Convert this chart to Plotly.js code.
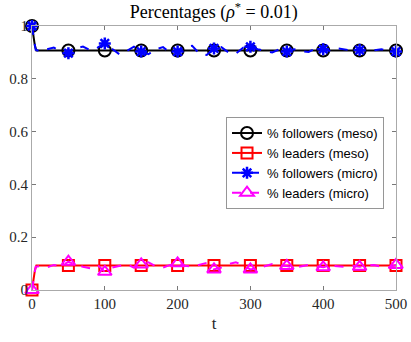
<!DOCTYPE html>
<html>
<head>
<meta charset="utf-8">
<script src="https://cdn.plot.ly/plotly-3.0.1.min.js"></script>
<style>
  html, body { margin: 0; padding: 0; background: #fff; }
  #myDiv { width: 411px; height: 342px; }
</style>
</head>
<body>
<div id="myDiv"></div>
<script>
// meso model (smooth)
var tMeso = [0, 2, 4, 6, 50, 100, 150, 200, 250, 300, 350, 400, 450, 500];
var followersMeso = [1, 0.96, 0.925, 0.907, 0.907, 0.907, 0.907, 0.907, 0.907, 0.907, 0.907, 0.907, 0.907, 0.907];
var leadersMeso = [0, 0.04, 0.075, 0.093, 0.093, 0.093, 0.093, 0.093, 0.093, 0.093, 0.093, 0.093, 0.093, 0.093];

// micro model (noisy)
var tMicro = [0, 5, 10, 20, 30, 40, 50, 60, 70, 80, 90, 100, 110, 120, 130, 140, 150, 160, 170, 180, 190,
              200, 210, 220, 230, 240, 250, 260, 270, 280, 290, 300, 310, 320, 330, 340, 350, 360, 370, 380, 390,
              400, 410, 420, 430, 440, 450, 460, 470, 480, 490, 500];
var followersMicro = [1, 0.91, 0.905, 0.912, 0.918, 0.905, 0.897, 0.915, 0.922, 0.908, 0.918, 0.934, 0.915, 0.893, 0.905, 0.922, 0.903, 0.893, 0.912, 0.92, 0.898,
                      0.903, 0.918, 0.925, 0.895, 0.89, 0.915, 0.92, 0.9, 0.895, 0.918, 0.921, 0.912, 0.905, 0.9, 0.912, 0.903, 0.912, 0.905, 0.902, 0.915,
                      0.912, 0.905, 0.915, 0.91, 0.907, 0.909, 0.905, 0.908, 0.912, 0.906, 0.903];
var leadersMicro = [0, 0.088, 0.09, 0.085, 0.095, 0.09, 0.107, 0.095, 0.088, 0.082, 0.095, 0.069, 0.085, 0.092, 0.098, 0.085, 0.097, 0.105, 0.09, 0.085, 0.095,
                    0.101, 0.092, 0.088, 0.095, 0.103, 0.078, 0.085, 0.098, 0.105, 0.093, 0.078, 0.083, 0.09, 0.098, 0.093, 0.091, 0.085, 0.09, 0.095, 0.09,
                    0.086, 0.092, 0.09, 0.088, 0.092, 0.088, 0.092, 0.095, 0.088, 0.085, 0.095];

// markers only every 50 time units: show those points, hide the rest
function markIdx(t) {
    var idx = [];
    t.forEach(function (v, i) { if (v % 50 === 0) idx.push(i); });
    return idx;
}
var hideOthers = {marker: {opacity: 0}};

var trace1 = {
    x: tMeso, y: followersMeso,
    mode: 'lines+markers', name: '% followers (meso)',
    line: {color: 'rgb(0,0,0)', width: 2},
    marker: {symbol: 'circle-open', size: 12, color: 'rgb(0,0,0)', line: {width: 2}},
    selectedpoints: markIdx(tMeso), selected: {marker: {opacity: 1}}, unselected: hideOthers,
    cliponaxis: false
};
var trace2 = {
    x: tMeso, y: leadersMeso,
    mode: 'lines+markers', name: '% leaders (meso)',
    line: {color: 'rgb(255,0,0)', width: 2},
    marker: {symbol: 'square-open', size: 11, color: 'rgb(255,0,0)', line: {width: 2}},
    selectedpoints: markIdx(tMeso), selected: {marker: {opacity: 1}}, unselected: hideOthers,
    cliponaxis: false
};
var trace3 = {
    x: tMicro, y: followersMicro,
    mode: 'lines+markers', name: '% followers (micro)',
    line: {color: 'rgb(0,0,255)', width: 2, dash: 'dash'},
    marker: {symbol: 'asterisk-open', size: 10, color: 'rgb(0,0,255)', line: {width: 2.5, color: 'rgb(0,0,255)'}},
    selectedpoints: markIdx(tMicro), selected: {marker: {opacity: 1}}, unselected: hideOthers,
    cliponaxis: false
};
var trace4 = {
    x: tMicro, y: leadersMicro,
    mode: 'lines+markers', name: '% leaders (micro)',
    line: {color: 'rgb(255,0,255)', width: 2, dash: 'dash'},
    marker: {symbol: 'triangle-up-open', size: 12, color: 'rgb(255,0,255)', line: {width: 2}},
    selectedpoints: markIdx(tMicro), selected: {marker: {opacity: 1}}, unselected: hideOthers,
    cliponaxis: false
};

var data = [trace1, trace2, trace3, trace4];

var serif = 'Liberation Serif, DejaVu Serif, serif';
var axisCommon = {
    showgrid: false, zeroline: false,
    showline: true, linecolor: 'rgb(170,170,170)', linewidth: 1,
    mirror: 'ticks', ticks: 'inside', ticklen: 4, tickcolor: 'rgb(120,120,120)',
    tickfont: {family: serif, size: 15, color: 'rgb(38,38,38)'}
};

var layout = {
    width: 411, height: 342,
    margin: {l: 32, r: 15, t: 26, b: 52},
    paper_bgcolor: '#fff', plot_bgcolor: '#fff',
    showlegend: true,
    title: {
        text: 'Percentages (<i>ρ</i><sup>*</sup> = 0.01)',
        font: {family: serif, size: 18, color: 'rgb(0,0,0)'},
        x: 0.52, xanchor: 'center', y: 0.965, yanchor: 'middle'
    },
    xaxis: Object.assign({}, axisCommon, {
        range: [0, 500], tickvals: [0, 100, 200, 300, 400, 500],
        title: {text: 't', font: {family: serif, size: 17, color: 'rgb(38,38,38)'}, standoff: 6}
    }),
    yaxis: Object.assign({}, axisCommon, {
        range: [0, 1], tickvals: [0, 0.2, 0.4, 0.6, 0.8, 1]
    }),
    legend: {
        x: 0.533, y: 0.655, xanchor: 'left', yanchor: 'top',
        bgcolor: '#fff', bordercolor: 'rgb(150,150,150)', borderwidth: 1,
        font: {family: 'Liberation Sans, Arial, sans-serif', size: 13, color: '#000'},
        tracegroupgap: 0
    }
};

Plotly.newPlot('myDiv', data, layout, {displayModeBar: false, staticPlot: true});
</script>
</body>
</html>
